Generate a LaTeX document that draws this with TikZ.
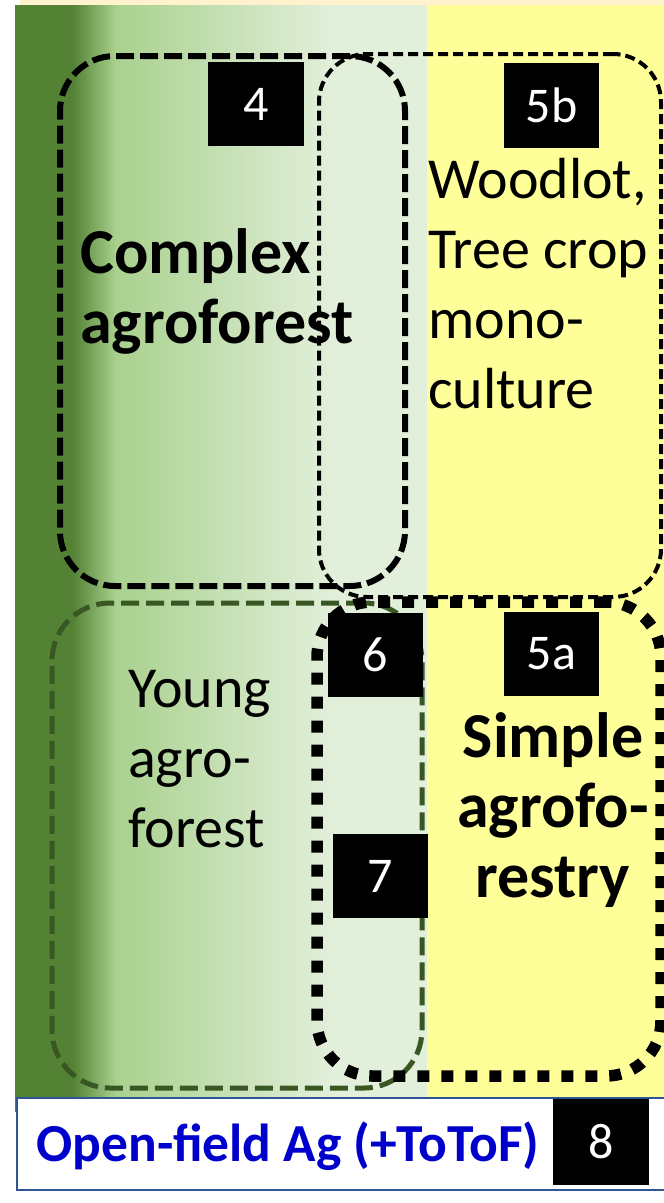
\documentclass[tikz,border=0pt]{standalone}
\usepackage{fontspec}
\setmainfont{Carlito}
\definecolor{dkgreen}{HTML}{548235}
\definecolor{midgreen}{HTML}{A9D18E}
\definecolor{ltgreen}{HTML}{E2EFDA}
\definecolor{paleyellow}{HTML}{FFFF99}
\definecolor{cream}{HTML}{FFF2CC}
\definecolor{boxgreen}{HTML}{385723}
\definecolor{borderblue}{HTML}{2F5597}
\definecolor{textblue}{HTML}{0000CC}
\begin{document}
\begin{tikzpicture}[x=1pt,y=-1pt,
  lbl/.style={fill=black,text=white,inner sep=0pt,minimum width=95pt,minimum height=84pt,font=\fontsize{50}{60}\selectfont},
  regtext/.style={inner sep=0pt,font=\fontsize{58}{70}\selectfont},
  boldtext/.style={inner sep=0pt,font=\fontsize{64}{70}\selectfont\bfseries},
  zone/.style={rectangle,inner sep=0pt,fill=none},
  zoneA/.style={zone,draw=black,line width=6pt,dash pattern=on 18pt off 6pt,rounded corners=55pt},
  zoneB/.style={zone,draw=black,line width=4pt,dash pattern=on 10pt off 5pt,rounded corners=48pt},
  zoneC/.style={zone,draw=boxgreen,line width=5pt,dash pattern=on 18pt off 7pt,rounded corners=58pt},
  zoneD/.style={zone,draw=black,line width=11.5pt,dash pattern=on 12pt off 12pt,rounded corners=55pt}]
\useasboundingbox (0,0) rectangle (664,1203);
% background
\fill[cream] (20,0) rectangle (664,5.5);
\fill[dkgreen] (15,5) rectangle (74,1112);
\shade[left color=dkgreen,right color=midgreen] (73,5) rectangle (116,1112);
\shade[left color=midgreen,right color=ltgreen] (115,5) rectangle (331,1112);
\fill[ltgreen] (330,5) rectangle (427.5,1112);
\fill[paleyellow] (427,5) rectangle (664,1112);
% zones
\node[zoneA,minimum width=345pt,minimum height=530pt] (complexzone) at (232.5,321) {};
\node[zoneB,minimum width=342pt,minimum height=543pt] (woodzone) at (490,325.5) {};
\node[zoneC,minimum width=370pt,minimum height=485pt] (youngzone) at (237,845.5) {};
\node[zoneD,minimum width=344pt,minimum height=474pt] (simplezone) at (489,839) {};
% texts (base anchor = baseline of the last line)
\node[boldtext,anchor=base west,align=left] (complex) at (80,343) {Complex\\agroforest};
\node[regtext,anchor=base west,align=left] (woodlot) at (428,408) {Woodlot,\\Tree crop\\mono-\\culture};
\node[regtext,anchor=base west,align=left] (young) at (128,847) {Young\\agro-\\forest};
\node[boldtext,anchor=base,align=center] (simple) at (553,897) {Simple\\agrofo-\\restry};
% labels
\node[lbl,minimum width=96pt] (l4) at (256,104) {4};
\node[lbl,minimum height=85pt] (l5b) at (551.5,105.5) {5b};
\node[lbl] (l6) at (375.5,655) {6};
\node[lbl] (l5a) at (551.5,654) {5a};
\node[lbl] (l7) at (380.5,876) {7};
% bottom box
\node[rectangle,draw=borderblue,line width=2pt,fill=white,inner sep=0pt,minimum width=650pt,minimum height=92pt] (openbox) at (342,1144) {};
\node[inner sep=0pt,text=textblue,font=\fontsize{53.5}{60}\selectfont\bfseries,anchor=base] (open) at (288,1161) {Open-field Ag (+ToToF)};
\node[lbl,minimum width=96pt,minimum height=86pt] (l8) at (601,1142) {8};
\end{tikzpicture}
\end{document}
